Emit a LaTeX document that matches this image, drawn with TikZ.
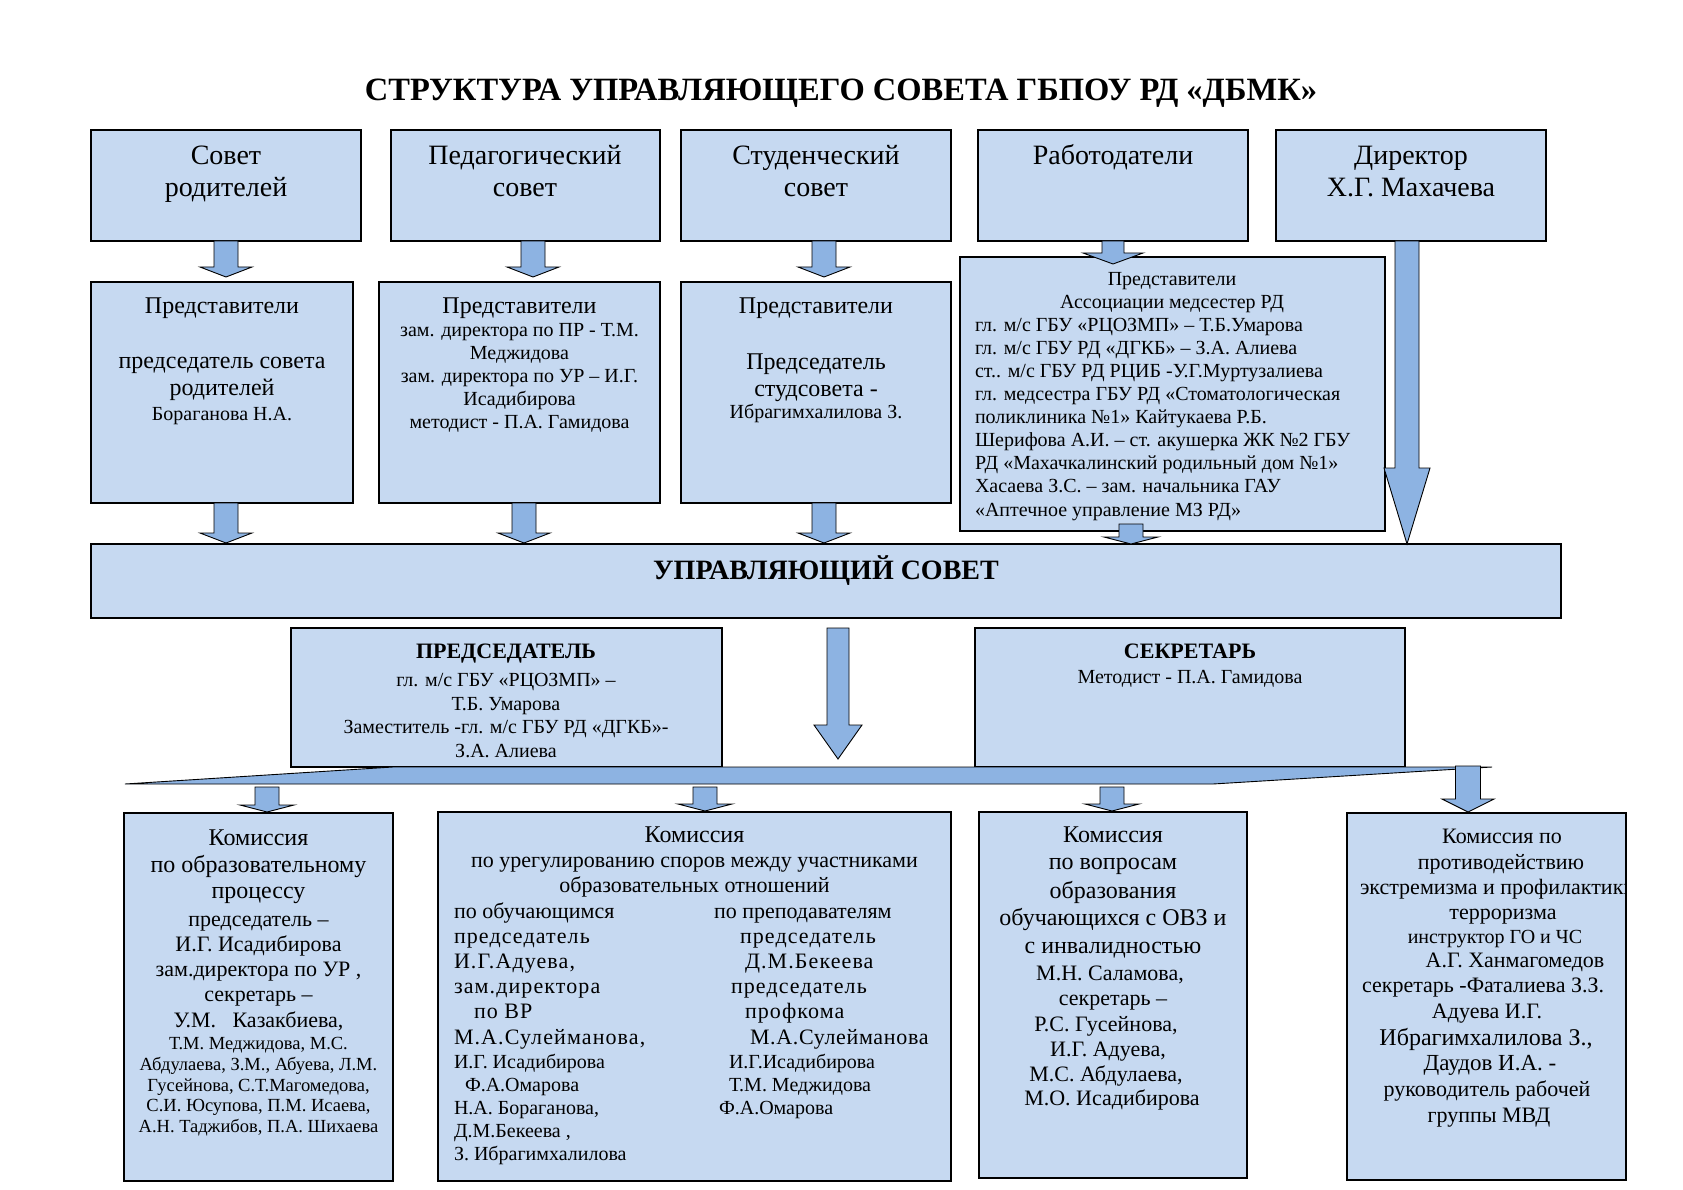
\documentclass[tikz,border=0pt]{standalone}
\usepackage{fontspec}
\setmainfont{Liberation Serif}
\usetikzlibrary{calc}
\definecolor{boxfill}{HTML}{C6D9F1}
\definecolor{arrfill}{HTML}{8DB3E2}
\newcommand\fsz[1]{\fontsize{#1}{#1}\selectfont}
\newcommand\bx[5]{\node[box,minimum width={(#4)-(#2)},minimum height={(#5)-(#3)}] (#1) at (#2,#3) {};}
\newcommand\tline[5]{\node[tx,#1] (#2) at (#3,#4) {#5};}
% block arrow: #1 top point, #2 tip point, #3 shaft half width, #4 head half width, #5 head length
\newcommand\barrow[5]{\filldraw[arr] let \p1=#1, \p2=#2 in
  (\x2-#3pt,\y1) -- (\x2+#3pt,\y1) -- (\x2+#3pt,\y2+#5pt) -- (\x2+#4pt,\y2+#5pt) --
  (\x2,\y2) -- (\x2-#4pt,\y2+#5pt) -- (\x2-#3pt,\y2+#5pt) -- cycle;}
\begin{document}
\begin{tikzpicture}[x=1pt,y=-1pt,
  box/.style={draw=black,line width=1.3pt,fill=boxfill,inner sep=0pt,outer sep=0pt,anchor=north west},
  tx/.style={anchor=base,inner sep=0pt,outer sep=0pt},
  tl/.style={anchor=base west},
  arr/.style={draw=black,line width=0.9pt,fill=arrfill,line join=miter},
  f32b/.style={font=\bfseries\fsz{32.5}},
  f28b/.style={font=\bfseries\fsz{28}},
  f22b/.style={font=\bfseries\fsz{22}},
  f28/.style={font=\fsz{28}},
  f24/.style={font=\fsz{24}},
  f23/.style={font=\fsz{23}},
  f22/.style={font=\fsz{22}},
  f22s/.style={font=\fsz{22}\addfontfeature{LetterSpace=5}},
  f22t/.style={font=\fsz{22}\addfontfeature{LetterSpace=3}},
  f20/.style={font=\fsz{20}},
  f18/.style={font=\fsz{18.5}}]
\useasboundingbox[fill=white] (0,0) rectangle (1683,1190);

% ---------- title ----------
\tline{f32b}{title}{841}{101}{СТРУКТУРА УПРАВЛЯЮЩЕГО СОВЕТА ГБПОУ РД «ДБМК»}

% ---------- boxes ----------
\bx{tb1}{91}{130}{361}{241}
\bx{tb2}{391}{130}{660}{241}
\bx{tb3}{681}{130}{951}{241}
\bx{tb4}{978}{130}{1248}{241}
\bx{tb5}{1276}{130}{1546}{241}
\bx{rb1}{91}{282}{353}{503}
\bx{rb2}{379}{282}{660}{503}
\bx{rb3}{681}{282}{951}{503}
\bx{rb4}{960}{257}{1385}{531}
\bx{us}{91}{544}{1561}{618}
\bx{ch}{291}{628}{722}{767}
\bx{sc}{975}{628}{1405}{767}
\bx{bb1}{124}{813}{393}{1181}
\bx{bb2}{438}{812}{951}{1181}
\bx{bb3}{979}{812}{1247}{1178}
\bx{bb4}{1347}{813}{1626}{1180}

% ---------- distribution bar ----------
\coordinate (barBL) at (125,784);
\coordinate (barTL) at (393,767);
\coordinate (barTR) at (1492,767);
\coordinate (barBR) at (1213,784);
\filldraw[arr] (barBL) -- (barTL) -- (barTR) -- (barBR) -- cycle;

% ---------- arrows ----------
\barrow{(tb1.south)}{([yshift=5pt]tb1.south |- rb1.north)}{12}{26}{10}
\barrow{(tb2.south)}{([xshift=7.5pt,yshift=5pt]tb2.south |- rb2.north)}{12}{26}{10}
\barrow{(tb3.south)}{([xshift=8pt,yshift=5pt]tb3.south |- rb3.north)}{12}{26}{10}
\barrow{(tb4.south)}{([yshift=-7pt]tb4.south |- rb4.north)}{11}{30}{11}
\barrow{(tb5.south)}{([xshift=-4pt]tb5.south |- us.north)}{12}{23}{76}
\barrow{(rb1.south)}{([xshift=4pt,yshift=1pt]rb1.south |- us.north)}{12}{26}{10}
\barrow{(rb2.south)}{([xshift=4.5pt,yshift=1pt]rb2.south |- us.north)}{12}{26}{10}
\barrow{(rb3.south)}{([xshift=8pt,yshift=1pt]rb3.south |- us.north)}{12}{26}{10}
\barrow{([yshift=7pt]rb4.south)}{([xshift=-41.5pt]rb4.south |- us.north)}{12}{27}{7}
\barrow{([yshift=-10pt]us.south)}{([xshift=12pt,yshift=8pt]us.south |- barTL)}{11}{24}{34}
\barrow{([yshift=-3pt]barBL)}{([xshift=8.5pt,yshift=1pt]bb1.north)}{12}{27}{7}
\barrow{([yshift=-3pt]barBL)}{([xshift=10.5pt,yshift=1pt]bb2.north)}{12}{27}{7}
\barrow{([yshift=-3pt]barBL)}{([xshift=-1pt,yshift=1pt]bb3.north)}{12}{27}{7}
\barrow{([yshift=1pt]barTR)}{([xshift=-18.5pt,yshift=1pt]bb4.north)}{12.5}{26}{13}

% ---------- top row texts ----------
\tline{f28}{t1a}{226}{165}{Совет}
\tline{f28}{t1b}{226}{197}{родителей}
\tline{f28}{t2a}{525}{165}{Педагогический}
\tline{f28}{t2b}{525}{197}{совет}
\tline{f28}{t3a}{816}{165}{Студенческий}
\tline{f28}{t3b}{816}{197}{совет}
\tline{f28}{t4a}{1113}{165}{Работодатели}
\tline{f28}{t5a}{1411}{165}{Директор}
\tline{f28}{t5b}{1411}{197}{Х.Г. Махачева}

% ---------- representatives ----------
\tline{f24}{r1a}{222}{313}{Представители}
\tline{f24}{r1b}{222}{368}{председатель совета}
\tline{f24}{r1c}{222}{395}{родителей}
\tline{f20}{r1d}{222}{420}{Бораганова Н.А.}

\tline{f24}{r2a}{519.5}{313}{Представители}
\tline{f20}{r2b}{519.5}{336}{зам. директора по ПР - Т.М.}
\tline{f20}{r2c}{519.5}{359}{Меджидова}
\tline{f20}{r2d}{519.5}{382}{зам. директора по УР – И.Г.}
\tline{f20}{r2e}{519.5}{405}{Исадибирова}
\tline{f20}{r2f}{519.5}{428}{методист - П.А. Гамидова}

\tline{f24}{r3a}{816}{313}{Представители}
\tline{f24}{r3b}{816}{369}{Председатель}
\tline{f24}{r3c}{816}{396}{студсовета -}
\tline{f20}{r3d}{816}{418}{Ибрагимхалилова З.}

\tline{f20}{r4a}{1172}{285}{Представители}
\tline{f20}{r4b}{1172}{308.1}{Ассоциации медсестер РД}
\tline{f20,tl}{r4c}{975}{331.2}{гл. м/с ГБУ «РЦОЗМП» – Т.Б.Умарова}
\tline{f20,tl}{r4d}{975}{354.3}{гл. м/с ГБУ РД «ДГКБ» – З.А. Алиева}
\tline{f20,tl}{r4e}{975}{377.4}{ст.. м/с ГБУ РД РЦИБ -У.Г.Муртузалиева}
\tline{f20,tl}{r4f}{975}{400.5}{гл. медсестра ГБУ РД «Стоматологическая}
\tline{f20,tl}{r4g}{975}{423.6}{поликлиника №1» Кайтукаева Р.Б.}
\tline{f20,tl}{r4h}{975}{446.7}{Шерифова А.И. – ст. акушерка ЖК №2 ГБУ}
\tline{f20,tl}{r4i}{975}{469.8}{РД «Махачкалинский родильный дом №1»}
\tline{f20,tl}{r4j}{975}{492.9}{Хасаева З.С. – зам. начальника ГАУ}
\tline{f20,tl}{r4k}{975}{516}{«Аптечное управление МЗ РД»}

% ---------- council ----------
\tline{f28b}{usT}{826}{579}{УПРАВЛЯЮЩИЙ СОВЕТ}

\tline{f22b}{chA}{506}{658}{ПРЕДСЕДАТЕЛЬ}
\tline{f20}{chB}{506}{686}{гл. м/с ГБУ «РЦОЗМП» –}
\tline{f20}{chC}{506}{710}{Т.Б. Умарова}
\tline{f20}{chD}{506}{733}{Заместитель -гл. м/с ГБУ РД «ДГКБ»-}
\tline{f20}{chE}{506}{757}{З.А. Алиева}

\tline{f22b}{scA}{1190}{658}{СЕКРЕТАРЬ}
\tline{f20}{scB}{1190}{683}{Методист - П.А. Гамидова}

% ---------- commission 1 ----------
\tline{f24}{c1a}{258.5}{845}{Комиссия}
\tline{f24}{c1b}{258.5}{872}{по образовательному}
\tline{f24}{c1c}{258.5}{898}{процессу}
\tline{f22}{c1d}{258.5}{926}{председатель –}
\tline{f22}{c1e}{258.5}{951}{И.Г. Исадибирова}
\tline{f22}{c1f}{258.5}{976}{зам.директора по УР ,}
\tline{f22}{c1g}{258.5}{1001}{секретарь –}
\tline{f22}{c1h}{258.5}{1027}{У.М.\ \ \ Казакбиева,}
\tline{f18}{c1i}{258.5}{1049}{Т.М. Меджидова, М.С.}
\tline{f18}{c1j}{258.5}{1070}{Абдулаева, З.М., Абуева, Л.М.}
\tline{f18}{c1k}{258.5}{1091}{Гусейнова, С.Т.Магомедова,}
\tline{f18}{c1l}{258.5}{1111.5}{С.И. Юсупова, П.М. Исаева,}
\tline{f18}{c1m}{258.5}{1132}{А.Н. Таджибов, П.А. Шихаева}

% ---------- commission 2 ----------
\tline{f24}{c2a}{694.5}{842}{Комиссия}
\tline{f22}{c2b}{694.5}{867}{по урегулированию споров между участниками}
\tline{f22}{c2c}{694.5}{892}{образовательных отношений}
\tline{f22,tl}{c2l1}{454}{918}{по обучающимся}
\tline{f22s,tl}{c2l2}{454}{943}{председатель}
\tline{f22s,tl}{c2l3}{454}{968}{И.Г.Адуева,}
\tline{f22s,tl}{c2l4}{454}{993}{зам.директора}
\tline{f22s,tl}{c2l5}{474}{1018}{по ВР}
\tline{f22s,tl}{c2l6}{454}{1044}{М.А.Сулейманова,}
\tline{f20,tl}{c2l7}{454}{1068}{И.Г. Исадибирова}
\tline{f20,tl}{c2l8}{465}{1091}{Ф.А.Омарова}
\tline{f20,tl}{c2l9}{454}{1114}{Н.А. Бораганова,}
\tline{f20,tl}{c2l10}{454}{1137}{Д.М.Бекеева ,}
\tline{f20,tl}{c2l11}{454}{1160}{З. Ибрагимхалилова}
\tline{f22,tl}{c2r1}{714}{918}{по преподавателям}
\tline{f22s,tl}{c2r2}{740}{943}{председатель}
\tline{f22s,tl}{c2r3}{745}{968}{Д.М.Бекеева}
\tline{f22s,tl}{c2r4}{731}{993}{председатель}
\tline{f22s,tl}{c2r5}{745}{1018}{профкома}
\tline{f22t,tl}{c2r6}{750}{1044}{М.А.Сулейманова}
\tline{f20,tl}{c2r7}{729}{1068}{И.Г.Исадибирова}
\tline{f20,tl}{c2r8}{729}{1091}{Т.М. Меджидова}
\tline{f20,tl}{c2r9}{719}{1114}{Ф.А.Омарова}

% ---------- commission 3 ----------
\tline{f24}{c3a}{1113}{842}{Комиссия}
\tline{f24}{c3b}{1113}{869}{по вопросам}
\tline{f24}{c3c}{1113}{898}{образования}
\tline{f24}{c3d}{1113}{925}{обучающихся с ОВЗ и}
\tline{f24}{c3e}{1113}{953}{с инвалидностью}
\tline{f22}{c3f}{1110}{980}{М.Н. Саламова,}
\tline{f22}{c3g}{1113}{1005}{секретарь –}
\tline{f22}{c3h}{1106}{1031}{Р.С. Гусейнова,}
\tline{f22}{c3i}{1108}{1056}{И.Г. Адуева,}
\tline{f22}{c3j}{1106}{1081}{М.С. Абдулаева,}
\tline{f22}{c3k}{1112}{1105}{М.О. Исадибирова}

% ---------- commission 4 ----------
\begin{scope}
\clip (bb4.north west) rectangle (bb4.south east);
\tline{f22}{c4a}{1502}{843}{Комиссия по}
\tline{f22}{c4b}{1501}{869}{противодействию}
\tline{f22,tl}{c4c}{1360}{894.5}{экстремизма и профилактики}
\tline{f22}{c4d}{1503}{919}{терроризма}
\tline{f20}{c4e}{1495}{943}{инструктор ГО и ЧС}
\tline{f22}{c4f}{1515}{967.5}{А.Г. Ханмагомедов}
\tline{f22,tl}{c4g}{1362}{992}{секретарь -Фаталиева З.З.}
\tline{f22}{c4h}{1487}{1018}{Адуева И.Г.}
\tline{f24}{c4i}{1486}{1045}{Ибрагимхалилова З.,}
\tline{f23}{c4j}{1490}{1070.5}{Даудов И.А. -}
\tline{f22}{c4k}{1487}{1096}{руководитель рабочей}
\tline{f22}{c4l}{1489}{1122}{группы МВД}
\end{scope}
\end{tikzpicture}
\end{document}
